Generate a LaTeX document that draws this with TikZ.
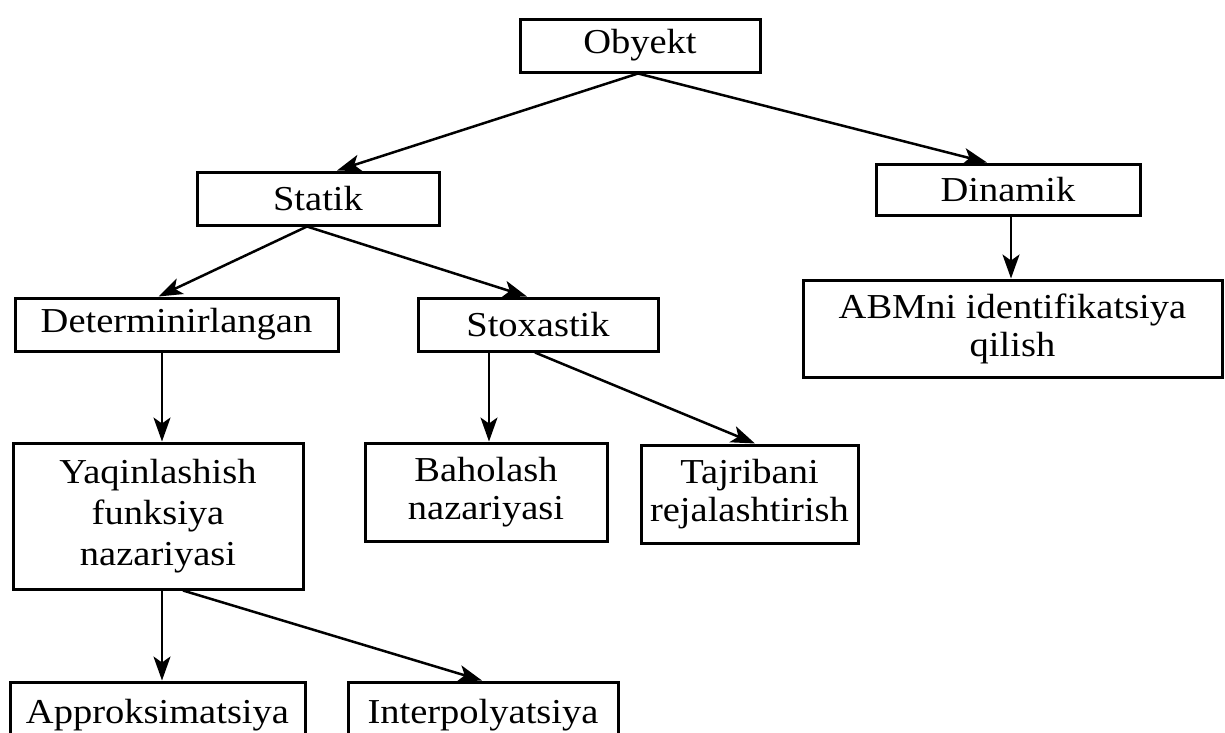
\documentclass[tikz,border=0pt]{standalone}
\usepackage{fontspec}
\setmainfont{Liberation Serif}[FakeStretch=1.1]
\usetikzlibrary{arrows.meta}
\begin{document}
\begin{tikzpicture}[x=1pt,y=-1pt,
  box/.style={draw,line width=3pt,inner sep=0pt,align=center,
    font=\fontsize{35}{38}\selectfont},
  conn/.style={line width=2.5pt,-{Stealth[length=24pt,width=17pt,inset=6pt]}}]
\useasboundingbox (0,0) rectangle (1225,732);
\clip (0,0) rectangle (1225,732);
\node[box,minimum width=240pt,minimum height=53pt] (obj) at (640,45.5) {Obyekt};
\node[box,minimum width=242pt,minimum height=53pt] (stat) at (318,198.5) {Statik};
\node[box,minimum width=264pt,minimum height=51pt] (din) at (1008,189.5) {Dinamik};
\node[box,minimum width=323pt,minimum height=53pt] (det) at (176.5,324.5) {Determinirlangan};
\node[box,minimum width=240pt,minimum height=53pt] (sto) at (538,324.5) {Stoxastik};
\node[box,minimum width=419pt,minimum height=97pt] (abm) at (1012.5,328.5) {ABMni identifikatsiya\\qilish};
\node[box,minimum width=290pt,minimum height=146pt,font=\fontsize{35}{41}\selectfont] (yaq) at (158,516) {Yaqinlashish\\funksiya\\nazariyasi};
\node[box,minimum width=242pt,minimum height=98pt] (bah) at (486,492) {Baholash\\nazariyasi};
\node[box,minimum width=217pt,minimum height=98pt] (taj) at (749.5,494) {Tajribani\\rejalashtirish};
\node[box,minimum width=295pt,minimum height=66pt] (app) at (157.5,715) {Approksimatsiya};
\node[box,minimum width=270pt,minimum height=66pt] (int) at (483,715) {Interpolyatsiya};
\draw[conn] ([xshift=-2pt]obj.south) -- ([xshift=19pt]stat.north);
\draw[conn] ([xshift=-2pt]obj.south) -- ([xshift=-21pt]din.north);
\draw[conn] ([xshift=-11pt]stat.south) -- ([xshift=-18pt]det.north);
\draw[conn] ([xshift=-11pt]stat.south) -- ([xshift=-11pt]sto.north);
\draw[conn] ([xshift=3pt]din.south) -- ([xshift=3pt]din.south |- abm.north);
\draw[conn] ([xshift=4pt]yaq.north |- det.south) -- ([xshift=4pt]yaq.north);
\draw[conn] ([xshift=3pt]bah.north |- sto.south) -- ([xshift=3pt]bah.north);
\draw[conn] ([xshift=-3pt]sto.south) -- ([xshift=5.5pt]taj.north);
\draw[conn] ([xshift=4pt]yaq.south) -- ([xshift=4pt]yaq.south |- app.north);
\draw[conn] ([xshift=25pt]yaq.south) -- ([xshift=-1pt]int.north);
\end{tikzpicture}
\end{document}
